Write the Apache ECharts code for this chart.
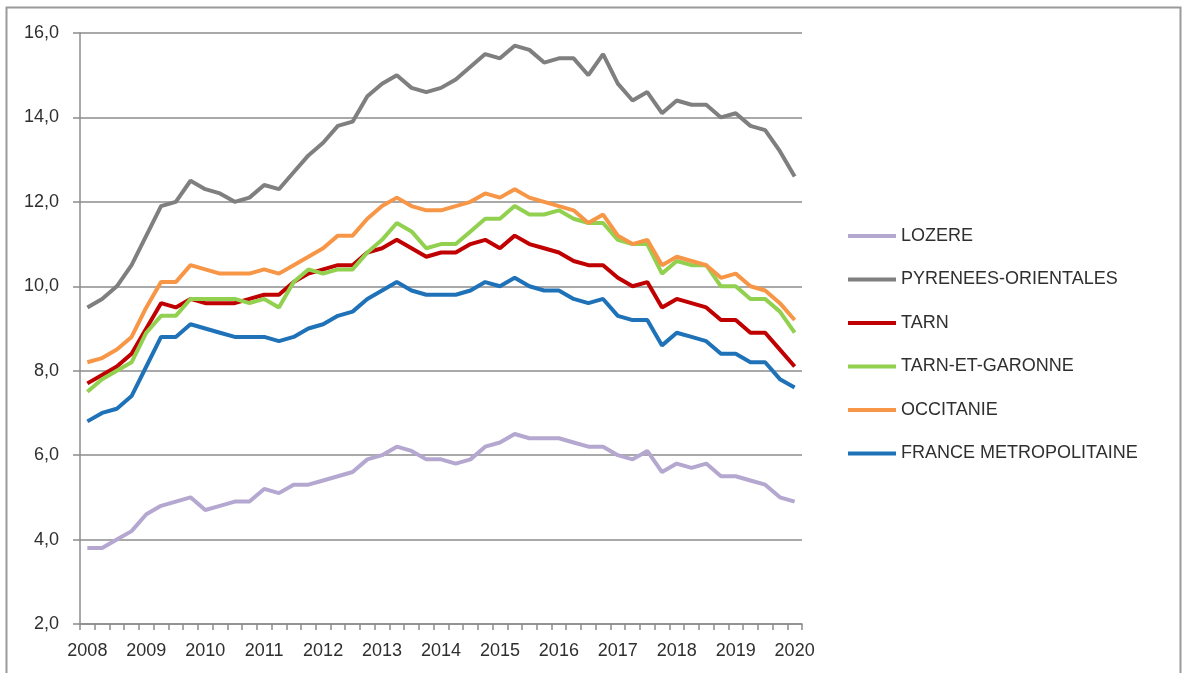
<!DOCTYPE html>
<html>
<head>
<meta charset="utf-8">
<script src="https://cdn.jsdelivr.net/npm/echarts@6/dist/echarts.min.js"></script>
<style>
  html, body { margin: 0; padding: 0; background: #fff; }
  #chart { width: 1184px; height: 673px; }
</style>
</head>
<body>
<div id="chart"></div>
<script>
// années et trimestres
var years = ['2008','2009','2010','2011','2012','2013','2014','2015','2016','2017','2018','2019','2020'];
var quarters = ['T1','T2','T3','T4'];

// taux de chômage trimestriels (%)
var lozere = [3.8,3.8,4.0,4.2,4.6,4.8,4.9,5.0,4.7,4.8,4.9,4.9,5.2,5.1,5.3,5.3,5.4,5.5,5.6,5.9,6.0,6.2,6.1,5.9,5.9,
  5.8,5.9,6.2,6.3,6.5,6.4,6.4,6.4,6.3,6.2,6.2,6.0,5.9,6.1,5.6,5.8,5.7,5.8,5.5,5.5,5.4,5.3,5.0,4.9];
var pyrenees = [9.5,9.7,10.0,10.5,11.2,11.9,12.0,12.5,12.3,12.2,12.0,12.1,12.4,12.3,12.7,13.1,13.4,13.8,13.9,14.5,14.8,15.0,14.7,14.6,14.7,
  14.9,15.2,15.5,15.4,15.7,15.6,15.3,15.4,15.4,15.0,15.5,14.8,14.4,14.6,14.1,14.4,14.3,14.3,14.0,14.1,13.8,13.7,13.2,12.6];
var tarn = [7.7,7.9,8.1,8.4,9.0,9.6,9.5,9.7,9.6,9.6,9.6,9.7,9.8,9.8,10.1,10.3,10.4,10.5,10.5,10.8,10.9,11.1,10.9,10.7,10.8,
  10.8,11.0,11.1,10.9,11.2,11.0,10.9,10.8,10.6,10.5,10.5,10.2,10.0,10.1,9.5,9.7,9.6,9.5,9.2,9.2,8.9,8.9,8.5,8.1];
var tarnGaronne = [7.5,7.8,8.0,8.2,8.9,9.3,9.3,9.7,9.7,9.7,9.7,9.6,9.7,9.5,10.1,10.4,10.3,10.4,10.4,10.8,11.1,11.5,11.3,10.9,11.0,
  11.0,11.3,11.6,11.6,11.9,11.7,11.7,11.8,11.6,11.5,11.5,11.1,11.0,11.0,10.3,10.6,10.5,10.5,10.0,10.0,9.7,9.7,9.4,8.9];
var occitanie = [8.2,8.3,8.5,8.8,9.5,10.1,10.1,10.5,10.4,10.3,10.3,10.3,10.4,10.3,10.5,10.7,10.9,11.2,11.2,11.6,11.9,12.1,11.9,11.8,11.8,
  11.9,12.0,12.2,12.1,12.3,12.1,12.0,11.9,11.8,11.5,11.7,11.2,11.0,11.1,10.5,10.7,10.6,10.5,10.2,10.3,10.0,9.9,9.6,9.2];
var france = [6.8,7.0,7.1,7.4,8.1,8.8,8.8,9.1,9.0,8.9,8.8,8.8,8.8,8.7,8.8,9.0,9.1,9.3,9.4,9.7,9.9,10.1,9.9,9.8,9.8,
  9.8,9.9,10.1,10.0,10.2,10.0,9.9,9.9,9.7,9.6,9.7,9.3,9.2,9.2,8.6,8.9,8.8,8.7,8.4,8.4,8.2,8.2,7.8,7.6];

var seriesNames = ['LOZERE','PYRENEES-ORIENTALES','TARN','TARN-ET-GARONNE','OCCITANIE','FRANCE METROPOLITAINE'];
var seriesColors = ['#b4a7d0','#7f7f7f','#c00000','#92d050','#f79646','#1f72b8'];
var seriesData = [lozere, pyrenees, tarn, tarnGaronne, occitanie, france];

// catégories : un point par trimestre, 2008 T1 -> 2020 T1
var categories = [];
for (var y = 0; y < years.length; y++) {
  for (var q = 0; q < quarters.length; q++) {
    if (y == years.length - 1 && q > 0) break;
    categories.push(years[y] + ' ' + quarters[q]);
  }
}

var series = [];
for (var i = 0; i < seriesNames.length; i++) {
  series.push({
    name: seriesNames[i],
    type: 'line',
    data: seriesData[i],
    symbol: 'none',
    lineStyle: { width: 4, color: seriesColors[i] },
    itemStyle: { color: seriesColors[i] }
  });
}

var axisGray = '#8c8c8c';
var textColor = '#2f2f2f';
var font = 'Liberation Sans, Arial, sans-serif';

var chart = echarts.init(document.getElementById('chart'));
chart.setOption({
  animation: false,
  backgroundColor: '#fff',
  graphic: [{
    type: 'rect',
    shape: { x: 6.5, y: 7.5, width: 1174, height: 700 },
    style: { fill: 'none', stroke: '#9a9a9a', lineWidth: 2 },
    silent: true
  }],
  grid: { left: 80, right: 382, top: 33, bottom: 49 },
  legend: {
    orient: 'vertical',
    left: 843,
    top: 222,
    icon: 'rect',
    itemWidth: 48,
    itemHeight: 4,
    itemGap: 25.5,
    textStyle: { fontSize: 18, color: textColor, fontFamily: font },
    data: seriesNames
  },
  xAxis: {
    type: 'category',
    data: categories,
    boundaryGap: true,
    axisLine: { lineStyle: { color: axisGray, width: 1.5 } },
    axisTick: { show: true, interval: 0, length: 6, lineStyle: { color: axisGray, width: 1.5 } },
    axisLabel: {
      interval: 3,
      margin: 18,
      fontSize: 18,
      color: textColor,
      fontFamily: font,
      formatter: function (v) { return v.slice(0, 4); }
    },
    splitLine: { show: false }
  },
  yAxis: {
    type: 'value',
    min: 2,
    max: 16,
    interval: 2,
    axisLine: { show: true, lineStyle: { color: axisGray, width: 1.5 } },
    axisTick: { show: true, length: 7, lineStyle: { color: axisGray, width: 1.5 } },
    axisLabel: {
      margin: 21,
      fontSize: 18,
      color: textColor,
      fontFamily: font,
      formatter: function (v) { return v.toFixed(1).replace('.', ','); }
    },
    splitLine: { lineStyle: { color: axisGray, width: 1.5 } }
  },
  series: series
});
</script>
</body>
</html>
